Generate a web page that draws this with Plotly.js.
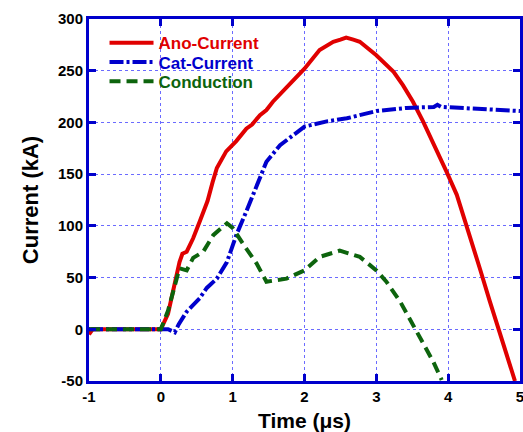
<!DOCTYPE html>
<html>
<head>
<meta charset="utf-8">
<script src="https://cdn.plot.ly/plotly-3.0.1.min.js"></script>
<style>html,body{margin:0;padding:0;background:#fff;}#chart{width:523px;height:432px;}</style>
</head>
<body>
<div id="chart"></div>
<script>
const anoT = [-1, -0.95, 0, 0.1, 0.26, 0.3, 0.36, 0.45, 0.54, 0.65, 0.72, 0.78, 0.91, 1.05, 1.19, 1.27, 1.38, 1.47, 1.56, 1.7, 1.84, 2.0, 2.21, 2.4, 2.5, 2.58, 2.68, 2.77, 3.0, 3.24, 3.37, 3.51, 3.65, 3.79, 3.98, 4.12, 4.3, 4.44, 4.58, 4.72, 4.85, 4.93];
const anoI = [-5, 0, 0, 15, 65, 73, 75, 88, 104, 124, 142, 156, 172, 182, 194, 198, 207, 212, 220, 230, 240, 252, 270, 278, 280, 282, 280, 278, 265, 249, 236, 220, 201, 181, 152, 130, 91, 59, 27, -5, -32, -50];

const catT = [-1, 0.1, 0.195, 0.25, 0.36, 0.54, 0.64, 0.78, 0.92, 1.05, 1.19, 1.36, 1.47, 1.66, 2.0, 2.31, 2.59, 3.0, 3.42, 3.8, 3.85, 3.9, 4.4, 5.0];
const catI = [0, 0, -3, 5, 17, 30, 40, 49, 65, 91, 114, 143, 162, 178, 196, 201, 204, 211, 214, 215, 217, 215, 213, 211];

const conT = [-1, 0, 0.1, 0.26, 0.36, 0.45, 0.59, 0.73, 0.92, 1.0, 1.15, 1.33, 1.47, 1.75, 2.0, 2.21, 2.49, 2.77, 3.0, 3.14, 3.33, 3.51, 3.65, 3.79, 3.91];
const conI = [0, 0, 18, 59, 57, 69, 75, 91, 102.5, 98, 82, 64, 46, 49, 57, 70, 76, 70, 57, 46, 27, 4, -12, -31, -49];

const seriesNames = ["Ano-Current", "Cat-Current", "Conduction"];
const xTicks = [-1, 0, 1, 2, 3, 4, 5];
const yTicks = [-50, 0, 50, 100, 150, 200, 250, 300];

const red = "#e00000", blue = "#0000cc", green = "#0d640d";
const FONT = "Liberation Sans, Arial, sans-serif";
const traces = [
  {x: anoT, y: anoI, mode: "lines", name: seriesNames[0], legend: "legend", line: {color: red, width: 4}},
  {x: catT, y: catI, mode: "lines", name: seriesNames[1], legend: "legend2", line: {color: blue, width: 4, dash: "14px,3px,3px,3px"}},
  {x: conT, y: conI, mode: "lines", name: seriesNames[2], legend: "legend3", line: {color: green, width: 4, dash: "11px,6px"}}
];

const axisCommon = {
  showline: true, linecolor: blue, linewidth: 3, mirror: "ticks",
  ticks: "inside", ticklen: 7, tickwidth: 3, tickcolor: blue,
  showgrid: true, gridcolor: "#6b6bff", gridwidth: 1, griddash: "dot",
  zeroline: false, ticklabeloverflow: "allow",
  tickfont: {family: FONT, size: 15, color: "#000", weight: "bold"}
};

function leg(y, color) {
  return {x: 0.036, y: y, xanchor: "left", yanchor: "middle", bgcolor: "rgba(0,0,0,0)",
    font: {family: FONT, size: 17, weight: "bold", color: color}, itemwidth: 44};
}

const layout = {
  width: 523, height: 432,
  margin: {l: 89, r: 3, t: 19, b: 51},
  paper_bgcolor: "#fff", plot_bgcolor: "#fff",
  showlegend: true,
  legend: leg(0.933, red),
  legend2: leg(0.880, blue),
  legend3: leg(0.827, green),
  xaxis: Object.assign({}, axisCommon, {range: [-1, 5], tickvals: xTicks, ticktext: xTicks.map(String),
    title: {text: "Time (μs)", font: {family: FONT, size: 21, color: "#000", weight: "bold"}, standoff: 12}}),
  yaxis: Object.assign({}, axisCommon, {range: [-50, 300], tickvals: yTicks, ticktext: yTicks.map(String),
    title: {text: "Current (kA)", font: {family: FONT, size: 22, color: "#000", weight: "bold"}, standoff: 14}})
};

Plotly.newPlot("chart", traces, layout, {displayModeBar: false, staticPlot: true});
</script>
</body>
</html>
